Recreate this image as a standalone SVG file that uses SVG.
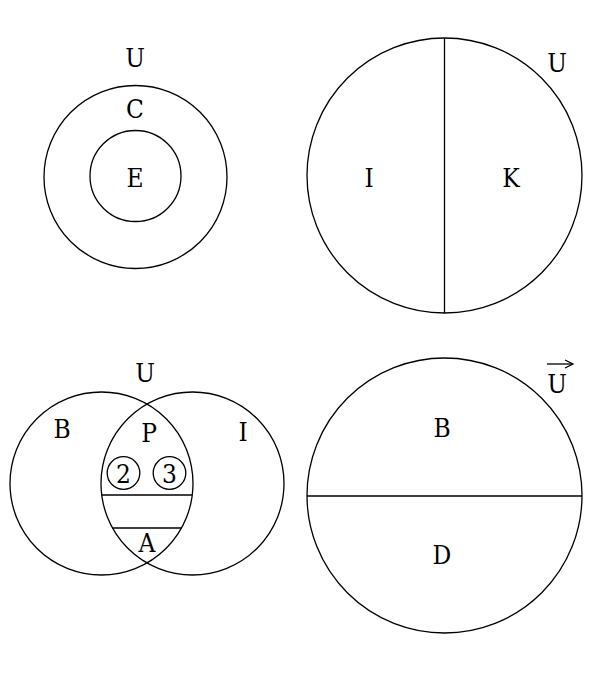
<svg xmlns="http://www.w3.org/2000/svg" width="605" height="677" viewBox="0 0 605 677">
<style>
.s{fill:none;stroke:#000;stroke-width:1.3}
text{font-family:"DejaVu Serif Condensed","DejaVu Serif","Liberation Serif",serif;font-stretch:condensed;font-size:26px;text-anchor:middle;fill:#000}
</style>
<rect width="605" height="677" fill="#fff"/>
<g id="diagram1">
<circle class="s" cx="135.5" cy="177" r="91.5"/>
<circle class="s" cx="135.5" cy="176" r="45.5"/>
<text x="135" y="67">U</text>
<text x="135" y="118">C</text>
<text x="135" y="187">E</text>
</g>
<g id="diagram2">
<circle class="s" cx="444.5" cy="175.5" r="137.5"/>
<line class="s" x1="444.5" y1="38" x2="444.5" y2="313"/>
<text x="369" y="187">I</text>
<text x="511" y="187">K</text>
<text x="557" y="72">U</text>
</g>
<g id="diagram3">
<circle class="s" cx="101.5" cy="483.5" r="91.5"/>
<circle class="s" cx="192.5" cy="483.5" r="91.5"/>
<line class="s" x1="101.7" y1="495" x2="192.3" y2="495"/>
<line class="s" x1="112.5" y1="528" x2="181.5" y2="528"/>
<circle class="s" cx="123.5" cy="473" r="16.3"/>
<circle class="s" cx="169.5" cy="473" r="16.3"/>
<text x="145" y="382">U</text>
<text x="62" y="438">B</text>
<text x="149" y="442">P</text>
<text x="243" y="441">I</text>
<text x="123.5" y="483">2</text>
<text x="169.5" y="483">3</text>
<text x="147" y="552">A</text>
</g>
<g id="diagram4">
<circle class="s" cx="444.5" cy="495.5" r="137.5"/>
<line class="s" x1="307" y1="496" x2="582" y2="496"/>
<text x="442" y="437">B</text>
<text x="442" y="564">D</text>
<text x="557" y="393">U</text>
<line class="s" x1="547" y1="364" x2="572" y2="364"/>
<path class="s" d="M565 360 L573 364 L565 368"/>
</g>
</svg>
